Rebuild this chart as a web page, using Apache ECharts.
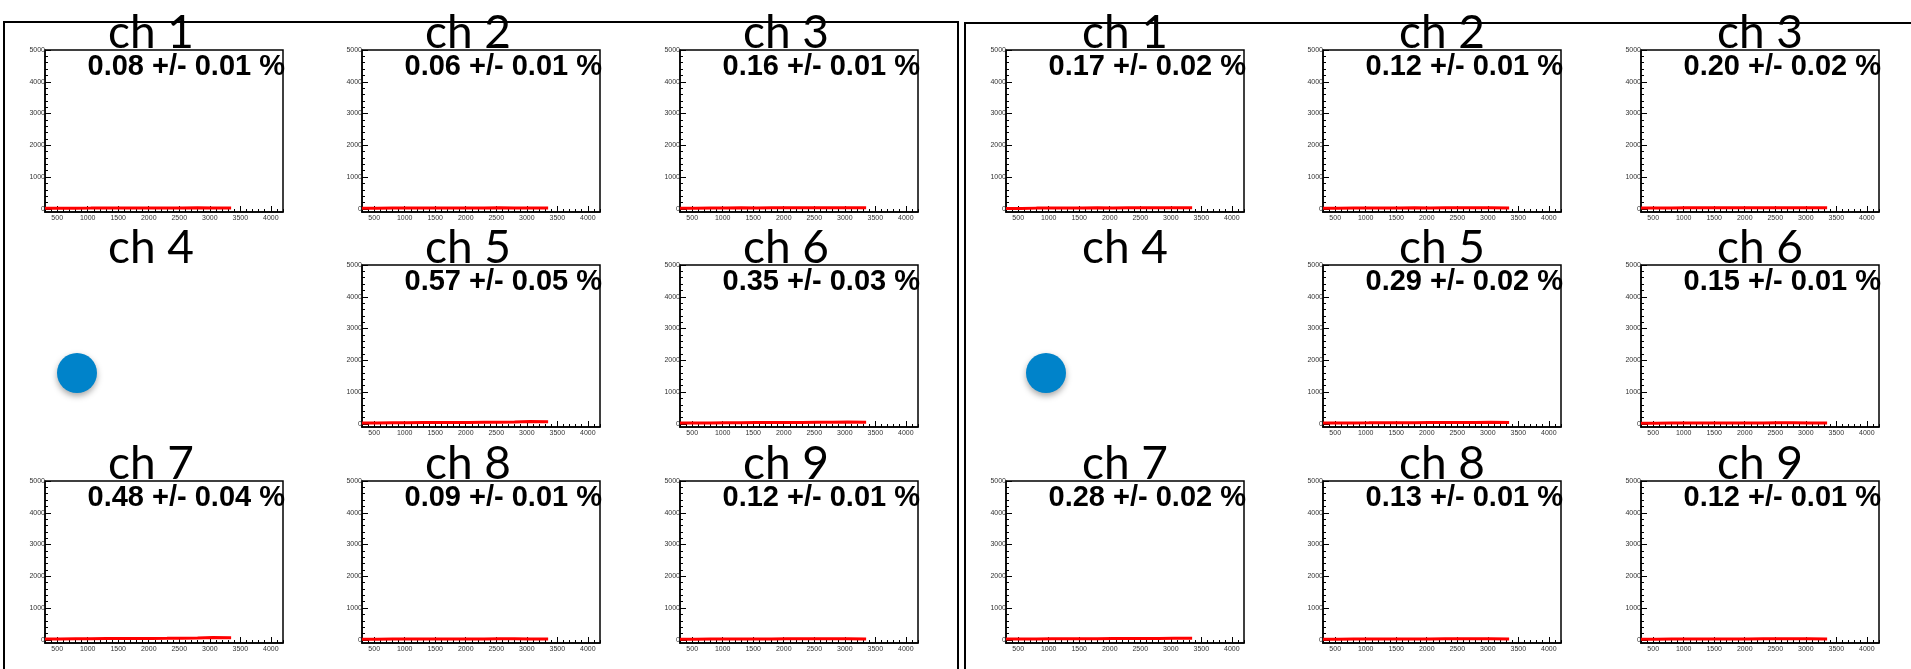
<!DOCTYPE html>
<html>
<head>
<meta charset="utf-8">
<script src="https://cdn.jsdelivr.net/npm/echarts@6/dist/echarts.min.js"></script>
<style>
html, body { margin: 0; padding: 0; background: #fff; }
#main { width: 1911px; height: 669px; }
</style>
</head>
<body>
<div id="main"></div>
<script>
// channel names, ch 4 has no histogram (blue dot instead)
const channels = ['ch 1', 'ch 2', 'ch 3', 'ch 4', 'ch 5', 'ch 6', 'ch 7', 'ch 8', 'ch 9']

// fraction and error in % for each channel
const leftRatio = [0.08, 0.06, 0.16, null, 0.57, 0.35, 0.48, 0.09, 0.12]
const leftError = [0.01, 0.01, 0.01, null, 0.05, 0.03, 0.04, 0.01, 0.01]
const rightRatio = [0.17, 0.12, 0.20, null, 0.29, 0.15, 0.28, 0.13, 0.12]
const rightError = [0.02, 0.01, 0.02, null, 0.02, 0.01, 0.02, 0.01, 0.01]

// histogram bin edges (last one is the right edge)
const binEdges = [300, 550, 800, 1050, 1300, 1550, 1800, 2050, 2300, 2550, 2800, 3050, 3350]

// counts per bin, all very close to zero on the 0-5000 scale
const leftCounts = [
  [15, 20, 22, 25, 24, 26, 25, 28, 27, 30, 28, 25],
  [18, 22, 24, 26, 25, 27, 26, 28, 30, 28, 27, 24],
  [20, 25, 28, 30, 29, 32, 30, 33, 35, 34, 32, 30],
  null,
  [25, 30, 35, 38, 40, 42, 45, 48, 50, 55, 70, 65],
  [22, 28, 32, 35, 38, 40, 42, 44, 46, 48, 55, 50],
  [25, 30, 35, 38, 40, 42, 45, 48, 52, 60, 70, 68],
  [18, 22, 24, 26, 25, 27, 28, 28, 30, 30, 28, 26],
  [20, 24, 26, 28, 27, 29, 30, 31, 32, 32, 30, 28]
]
const rightCounts = [
  [10, 22, 25, 28, 27, 30, 29, 32, 33, 34, 32, 30],
  [18, 24, 26, 28, 27, 30, 29, 31, 33, 32, 30, 28],
  [22, 28, 30, 32, 31, 34, 33, 35, 37, 36, 34, 32],
  null,
  [22, 28, 30, 33, 34, 36, 38, 40, 42, 44, 46, 44],
  [18, 22, 24, 26, 25, 27, 28, 29, 30, 30, 29, 27],
  [22, 28, 31, 33, 34, 36, 38, 40, 42, 45, 50, 48],
  [18, 22, 25, 27, 26, 28, 29, 30, 31, 31, 30, 28],
  [18, 22, 25, 27, 26, 28, 29, 30, 31, 31, 30, 28]
]

// tick labels
const xMajorTicks = [500, 1000, 1500, 2000, 2500, 3000, 3500, 4000]
const yMajorTicks = [0, 1000, 2000, 3000, 4000, 5000]

const xMin = 300, xMax = 4200, yMin = -100, yMax = 5000
const xMinorTicks = []
for (let v = 300; v <= 4200; v += 100) if (v % 500) xMinorTicks.push(v)
const yMinorTicks = []
for (let v = 0; v <= 5000; v += 200) if (v % 1000) yMinorTicks.push(v)

const panels = [
  { colX: [45, 362, 680], ratio: leftRatio, err: leftError, counts: leftCounts, shift: -13, dot: 77 },
  { colX: [1006, 1323, 1641], ratio: rightRatio, err: rightError, counts: rightCounts, shift: 0, dot: 1046 }
]
const rowY = [50, 265, 481]
const W = 238, H = 162

const grid = [], xAxis = [], yAxis = [], series = []
const graphic = [
  { type: 'rect', z: 1, shape: { x: 4, y: 22, width: 954, height: 700 }, style: { fill: 'none', stroke: '#000', lineWidth: 2 } },
  { type: 'rect', z: 1, shape: { x: 965, y: 23, width: 1000, height: 700 }, style: { fill: 'none', stroke: '#000', lineWidth: 2 } }
]

const labelStyle = { fontSize: 7, color: '#333', fontFamily: 'Liberation Sans', formatter: v => String(v) }

panels.forEach(p => {
  channels.forEach((name, i) => {
    const left = p.colX[i % 3]
    const top = rowY[Math.floor(i / 3)]
    graphic.push({
      type: 'text', z: 10, x: left + W / 2 + p.shift, y: top - 17,
      style: { text: name, font: '46px Lato', fill: '#000', align: 'center', textAlign: 'center', verticalAlign: 'middle', textVerticalAlign: 'middle' }
    })
    if (p.counts[i] === null) {
      graphic.push({
        type: 'circle', z: 10, shape: { cx: p.dot, cy: 373, r: 20 },
        style: { fill: '#0083ca', shadowBlur: 6, shadowOffsetY: 3, shadowColor: 'rgba(0,0,0,0.35)' }
      })
      return
    }
    const g = grid.length
    grid.push({ left: left, top: top, width: W, height: H, show: true, borderColor: '#000', borderWidth: 1.5, backgroundColor: 'transparent' })
    const baseX = {
      gridIndex: g, type: 'value', min: xMin, max: xMax, position: 'bottom',
      splitLine: { show: false }
    }
    xAxis.push(Object.assign({}, baseX, {
      axisLine: { show: true, onZero: false, lineStyle: { color: '#000', width: 1.5 } },
      axisTick: { show: true, inside: true, length: 6, customValues: xMajorTicks, lineStyle: { color: '#000', width: 1 } },
      axisLabel: Object.assign({ customValues: xMajorTicks, margin: 3 }, labelStyle)
    }))
    xAxis.push(Object.assign({}, baseX, {
      axisLine: { show: false, onZero: false },
      axisTick: { show: true, inside: true, length: 3, customValues: xMinorTicks, lineStyle: { color: '#000', width: 1 } },
      axisLabel: { show: false }
    }))
    const baseY = {
      gridIndex: g, type: 'value', min: yMin, max: yMax, position: 'left',
      splitLine: { show: false }
    }
    yAxis.push(Object.assign({}, baseY, {
      axisLine: { show: true, onZero: false, lineStyle: { color: '#000', width: 1.5 } },
      axisTick: { show: true, inside: true, length: 6, customValues: yMajorTicks, lineStyle: { color: '#000', width: 1 } },
      axisLabel: Object.assign({ customValues: yMajorTicks, margin: 0 }, labelStyle)
    }))
    yAxis.push(Object.assign({}, baseY, {
      axisLine: { show: false, onZero: false },
      axisTick: { show: true, inside: true, length: 3, customValues: yMinorTicks, lineStyle: { color: '#000', width: 1 } },
      axisLabel: { show: false }
    }))
    const c = p.counts[i]
    series.push({
      type: 'line', step: 'end', xAxisIndex: 2 * g, yAxisIndex: 2 * g,
      showSymbol: false, silent: true,
      lineStyle: { color: '#ff0000', width: 3 },
      data: binEdges.map((e, k) => [e, c[Math.min(k, c.length - 1)]])
    })
    graphic.push({
      type: 'text', z: 10, x: left + W + 2, y: top + 17,
      style: {
        text: p.ratio[i].toFixed(2) + ' +/- ' + p.err[i].toFixed(2) + ' %',
        font: 'bold 29px "Liberation Sans"', fill: '#000',
        align: 'right', textAlign: 'right', verticalAlign: 'middle', textVerticalAlign: 'middle'
      }
    })
  })
})

const myChart = echarts.init(document.getElementById('main'))
myChart.setOption({
  animation: false,
  grid: grid,
  xAxis: xAxis,
  yAxis: yAxis,
  series: series,
  graphic: graphic
})
</script>
</body>
</html>
